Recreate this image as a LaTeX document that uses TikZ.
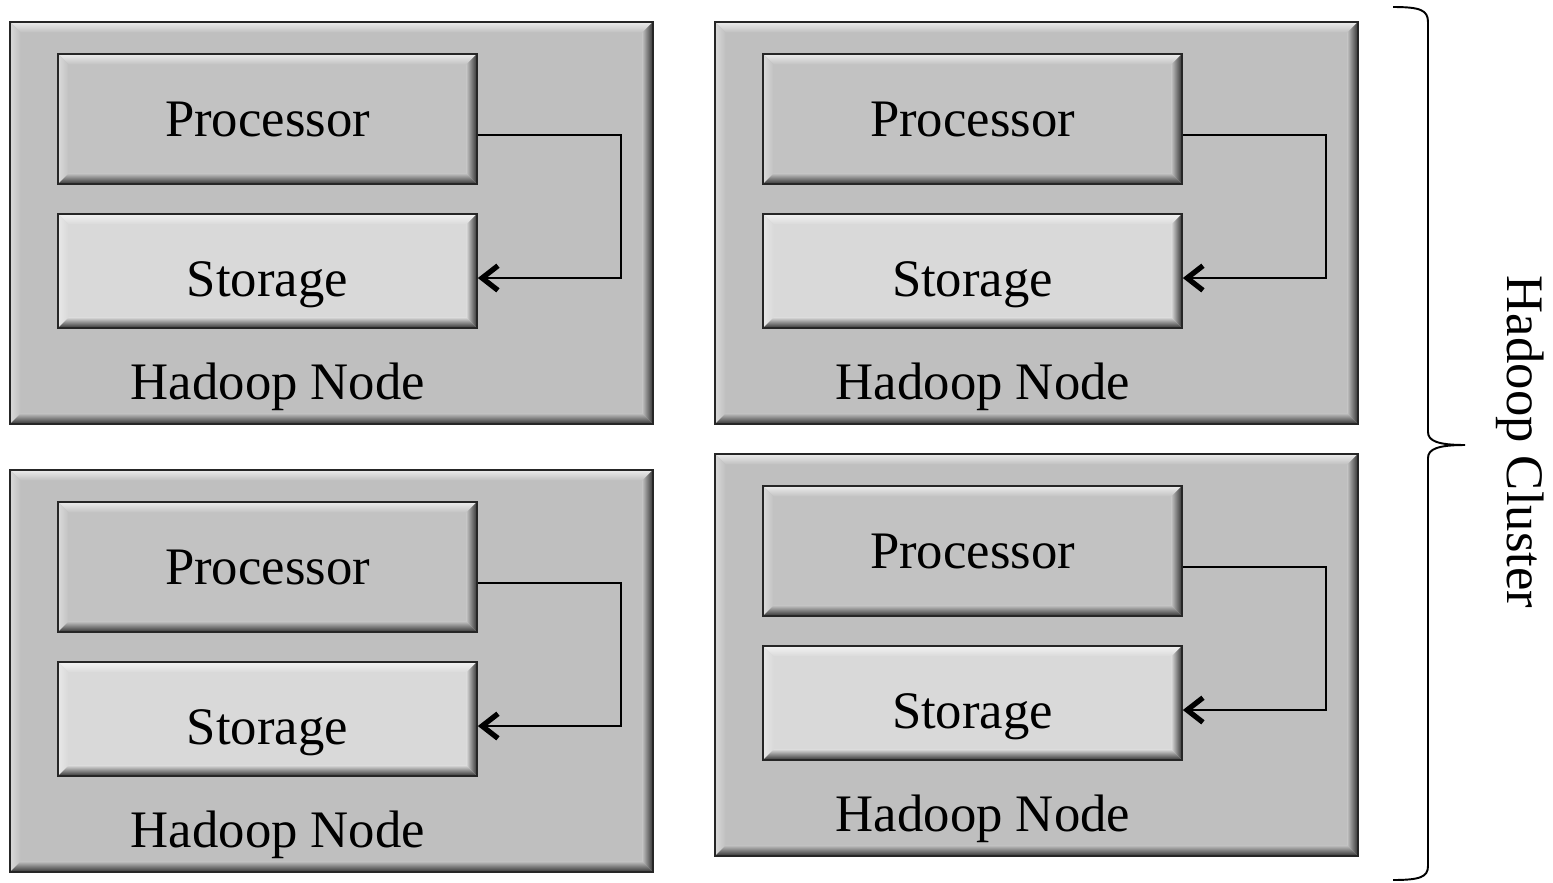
\documentclass[tikz,border=0pt]{standalone}
\usepackage{fontspec}
\setmainfont{Liberation Serif}
\usetikzlibrary{calc, arrows.meta}
\tikzset{every picture/.append style={thick}}

\colorlet{nodegray}{black!25}
\colorlet{procgray}{black!24}
\colorlet{storgray}{black!15}

\tikzset{
  bevel/.style={fill=#1, draw=black!85, line width=1pt, path picture={
      \path (path picture bounding box.north west) coordinate (nw)
            (path picture bounding box.south east) coordinate (se);
      \shade[top color=#1!30!white, bottom color=#1] (nw) -- (se|-nw) -- ($(se|-nw)+(-6pt,-6pt)$) -- ($(nw)+(6pt,-6pt)$) -- cycle;
      \shade[left color=#1!60!white, right color=#1] (nw) -- ($(nw)+(6pt,-6pt)$) -- ($(nw|-se)+(6pt,6pt)$) -- (nw|-se) -- cycle;
      \shade[right color=black!80, left color=#1] (se|-nw) -- (se) -- ($(se)+(-6pt,6pt)$) -- ($(se|-nw)+(-6pt,-6pt)$) -- cycle;
      \shade[bottom color=black!80, top color=#1] (nw|-se) -- ($(nw|-se)+(6pt,6pt)$) -- ($(se)+(-6pt,6pt)$) -- (se) -- cycle;
    }},
  hnode/.style={bevel=nodegray, minimum width=12.86cm, minimum height=8.04cm, inner sep=0pt},
  proc/.style={bevel=procgray, minimum width=8.38cm, minimum height=2.6cm, inner sep=0pt, font=\fontsize{30}{36}\selectfont},
  stor/.style={bevel=storgray, minimum width=8.38cm, minimum height=2.28cm, inner sep=0pt, text height=28.5pt, text depth=0pt, font=\fontsize{30}{36}\selectfont},
  caption/.style={font=\fontsize{30}{36}\selectfont, inner sep=0pt},
  link/.style={line width=1pt, -{Straight Barb[length=9pt, width=14pt, line width'=3pt]}}
}

\begin{document}
\begin{tikzpicture}[x=0.02cm, y=-0.02cm]
    \useasboundingbox (0,0) rectangle (1553,883);

    % Hadoop nodes
    \foreach \n/\dx/\dy in {a/0/0, b/705/0, c/0/448, d/705/432} {
        \node[hnode] (\n) at ({331.5+\dx},{223+\dy}) {};
        \node[proc] (\n p) at ({267.5+\dx},{119+\dy}) {Processor};
        \node[stor] (\n s) at ({267.5+\dx},{271+\dy}) {Storage};
        \node[caption] (\n t) at ({278+\dx},{387+\dy}) {Hadoop Node};
        \draw[link] ([yshift=-9pt]\n p.east) -- ++(143,0) |- ([yshift=-4pt]\n s.east);
    }

    % Cluster brace
    \coordinate (btop) at (1393,7);
    \coordinate (bbot) at (1393,880);
    \coordinate (btip) at (1465,445);
    \draw[line width=1.1pt] (btop) .. controls (1420,7) and (1428,10) .. (1428,22)
        -- (1428,432) .. controls (1428,441) and (1438,445) .. (btip)
        .. controls (1438,445) and (1428,449) .. (1428,458)
        -- (1428,866) .. controls (1428,877) and (1420,880) .. (bbot);
    \node[caption, rotate=-90] (cluster) at (1520,442) {Hadoop Cluster};
\end{tikzpicture}
\end{document}
